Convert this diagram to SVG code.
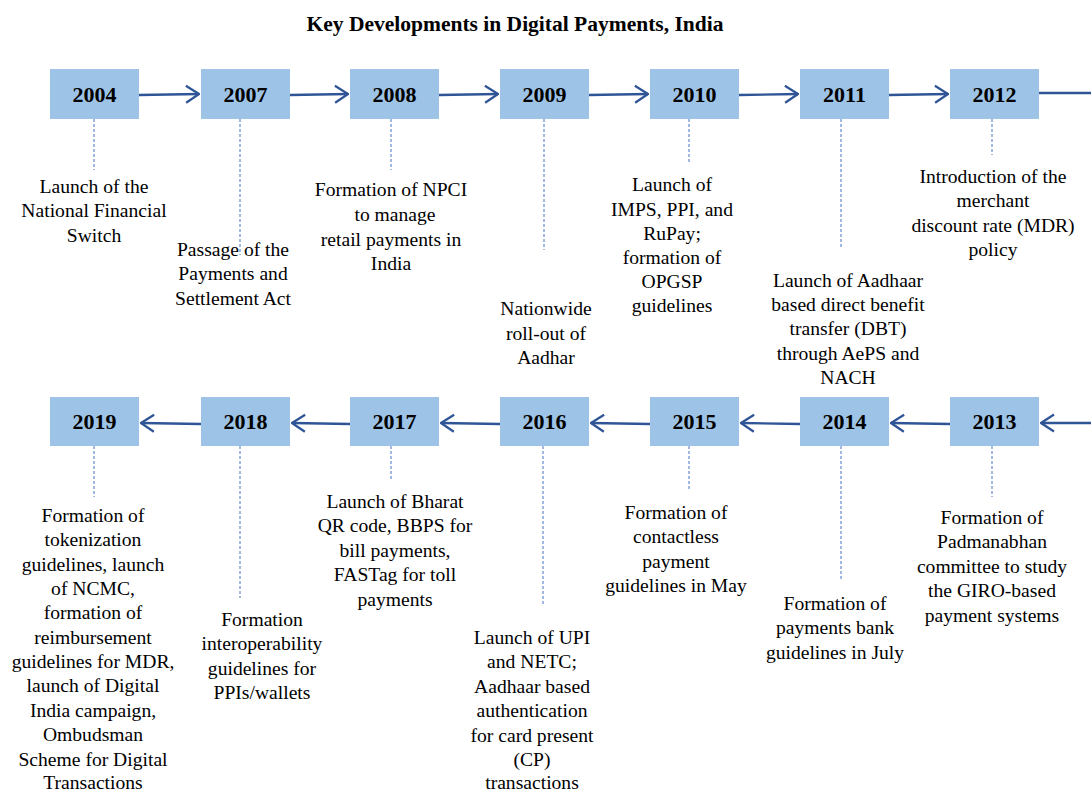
<svg xmlns="http://www.w3.org/2000/svg" width="1091" height="791" viewBox="0 0 1091 791">
<style>
.box{fill:#9DC3E6;}
.arr{stroke:#2F5597;stroke-width:2.3;fill:none;}
.dot{stroke:#4472C4;stroke-width:1;stroke-dasharray:3,2;fill:none;}
</style>
<defs>
<marker id="ah" viewBox="0 0 16 20" refX="15" refY="10" markerWidth="16" markerHeight="20" markerUnits="userSpaceOnUse" orient="auto">
<polyline points="2,1.5 15,10 2,18.5" fill="none" stroke="#2F5597" stroke-width="2.2"/>
</marker>
</defs>
<rect width="1091" height="791" fill="#fff"/>
<text x="515" y="31" font-family="Liberation Serif, serif" font-size="21.5" font-weight="bold" text-anchor="middle" fill="#000">Key Developments in Digital Payments, India</text>
<g id="connectors">
<line class="arr" x1="139" y1="95" x2="199" y2="94" marker-end="url(#ah)"/>
<line class="arr" x1="290" y1="95" x2="348" y2="94" marker-end="url(#ah)"/>
<line class="arr" x1="439" y1="95" x2="498" y2="94" marker-end="url(#ah)"/>
<line class="arr" x1="589" y1="95" x2="648" y2="94" marker-end="url(#ah)"/>
<line class="arr" x1="739" y1="95" x2="798" y2="94" marker-end="url(#ah)"/>
<line class="arr" x1="889" y1="95" x2="948" y2="94" marker-end="url(#ah)"/>
<line class="arr" x1="1039" y1="93" x2="1091" y2="93"/>
<line class="arr" x1="1091" y1="423" x2="1041" y2="423" marker-end="url(#ah)"/>
<line class="arr" x1="950" y1="424" x2="891" y2="423" marker-end="url(#ah)"/>
<line class="arr" x1="800" y1="424" x2="741" y2="423" marker-end="url(#ah)"/>
<line class="arr" x1="650" y1="424" x2="591" y2="423" marker-end="url(#ah)"/>
<line class="arr" x1="500" y1="424" x2="441" y2="423" marker-end="url(#ah)"/>
<line class="arr" x1="350" y1="424" x2="292" y2="423" marker-end="url(#ah)"/>
<line class="arr" x1="201" y1="424" x2="141" y2="423" marker-end="url(#ah)"/>
<line class="dot" x1="94" y1="119" x2="94" y2="170"/>
<line class="dot" x1="240" y1="119" x2="240" y2="255"/>
<line class="dot" x1="391" y1="119" x2="391" y2="170"/>
<line class="dot" x1="544" y1="119" x2="544" y2="250"/>
<line class="dot" x1="689" y1="119" x2="689" y2="163"/>
<line class="dot" x1="841" y1="119" x2="841" y2="247"/>
<line class="dot" x1="992" y1="119" x2="992" y2="155"/>
<line class="dot" x1="94" y1="446" x2="94" y2="497"/>
<line class="dot" x1="240" y1="446" x2="240" y2="598"/>
<line class="dot" x1="391" y1="446" x2="391" y2="481"/>
<line class="dot" x1="543" y1="446" x2="543" y2="606"/>
<line class="dot" x1="689" y1="446" x2="689" y2="490"/>
<line class="dot" x1="841" y1="446" x2="841" y2="580"/>
<line class="dot" x1="992" y1="446" x2="992" y2="497"/>
</g>
<g id="years" font-family="Liberation Serif, serif" font-size="22" font-weight="bold" text-anchor="middle" fill="#000">
<g id="n2004"><rect class="box" x="50" y="69" width="89" height="50"/><text x="94.5" y="102">2004</text></g>
<g id="n2007"><rect class="box" x="201" y="69" width="89" height="50"/><text x="245.5" y="102">2007</text></g>
<g id="n2008"><rect class="box" x="350" y="69" width="89" height="50"/><text x="394.5" y="102">2008</text></g>
<g id="n2009"><rect class="box" x="500" y="69" width="89" height="50"/><text x="544.5" y="102">2009</text></g>
<g id="n2010"><rect class="box" x="650" y="69" width="89" height="50"/><text x="694.5" y="102">2010</text></g>
<g id="n2011"><rect class="box" x="800" y="69" width="89" height="50"/><text x="844.5" y="102">2011</text></g>
<g id="n2012"><rect class="box" x="950" y="69" width="89" height="50"/><text x="994.5" y="102">2012</text></g>
<g id="n2013"><rect class="box" x="950" y="397" width="89" height="49"/><text x="994.5" y="429">2013</text></g>
<g id="n2014"><rect class="box" x="800" y="397" width="89" height="49"/><text x="844.5" y="429">2014</text></g>
<g id="n2015"><rect class="box" x="650" y="397" width="89" height="49"/><text x="694.5" y="429">2015</text></g>
<g id="n2016"><rect class="box" x="500" y="397" width="89" height="49"/><text x="544.5" y="429">2016</text></g>
<g id="n2017"><rect class="box" x="350" y="397" width="89" height="49"/><text x="394.5" y="429">2017</text></g>
<g id="n2018"><rect class="box" x="201" y="397" width="89" height="49"/><text x="245.5" y="429">2018</text></g>
<g id="n2019"><rect class="box" x="50" y="397" width="89" height="49"/><text x="94.5" y="429">2019</text></g>
</g>
<g id="labels" font-family="Liberation Serif, serif" font-size="19.6" text-anchor="middle" fill="#000">
<g id="l2004"><text x="94" y="193">Launch of the</text><text x="94" y="217">National Financial</text><text x="94" y="242">Switch</text></g>
<g id="l2007"><text x="233" y="256">Passage of the</text><text x="233" y="280">Payments and</text><text x="233" y="305">Settlement Act</text></g>
<g id="l2008"><text x="391" y="196">Formation of NPCI</text><text x="395" y="221">to manage</text><text x="391" y="246">retail payments in</text><text x="391" y="270">India</text></g>
<g id="l2009"><text x="546" y="315">Nationwide</text><text x="546" y="340">roll-out of</text><text x="546" y="364">Aadhar</text></g>
<g id="l2010"><text x="672" y="191">Launch of</text><text x="672" y="216">IMPS, PPI, and</text><text x="672" y="240">RuPay;</text><text x="672" y="264">formation of</text><text x="672" y="288">OPGSP</text><text x="672" y="312">guidelines</text></g>
<g id="l2011"><text x="848" y="287">Launch of Aadhaar</text><text x="848" y="311">based direct benefit</text><text x="848" y="335">transfer (DBT)</text><text x="848" y="360">through AePS and</text><text x="848" y="384">NACH</text></g>
<g id="l2012"><text x="993" y="183">Introduction of the</text><text x="993" y="207">merchant</text><text x="993" y="232">discount rate (MDR)</text><text x="993" y="256">policy</text></g>
<g id="l2013"><text x="992" y="524">Formation of</text><text x="992" y="548">Padmanabhan</text><text x="992" y="573">committee to study</text><text x="992" y="597">the GIRO-based</text><text x="992" y="622">payment systems</text></g>
<g id="l2014"><text x="835" y="610">Formation of</text><text x="835" y="634">payments bank</text><text x="835" y="659">guidelines in July</text></g>
<g id="l2015"><text x="676" y="519">Formation of</text><text x="676" y="543">contactless</text><text x="676" y="568">payment</text><text x="676" y="592">guidelines in May</text></g>
<g id="l2016"><text x="532" y="644">Launch of UPI</text><text x="532" y="668">and NETC;</text><text x="532" y="693">Aadhaar based</text><text x="532" y="717">authentication</text><text x="532" y="742">for card present</text><text x="532" y="766">(CP)</text><text x="532" y="789">transactions</text></g>
<g id="l2017"><text x="395" y="508">Launch of Bharat</text><text x="395" y="532">QR code, BBPS for</text><text x="395" y="557">bill payments,</text><text x="395" y="581">FASTag for toll</text><text x="395" y="606">payments</text></g>
<g id="l2018"><text x="262" y="626">Formation</text><text x="262" y="650">interoperability</text><text x="262" y="675">guidelines for</text><text x="262" y="699">PPIs/wallets</text></g>
<g id="l2019"><text x="93" y="522">Formation of</text><text x="93" y="546">tokenization</text><text x="93" y="571">guidelines, launch</text><text x="93" y="595">of NCMC,</text><text x="93" y="619">formation of</text><text x="93" y="644">reimbursement</text><text x="93" y="668">guidelines for MDR,</text><text x="93" y="692">launch of Digital</text><text x="93" y="717">India campaign,</text><text x="93" y="741">Ombudsman</text><text x="93" y="766">Scheme for Digital</text><text x="93" y="789">Transactions</text></g>
</g>
</svg>
